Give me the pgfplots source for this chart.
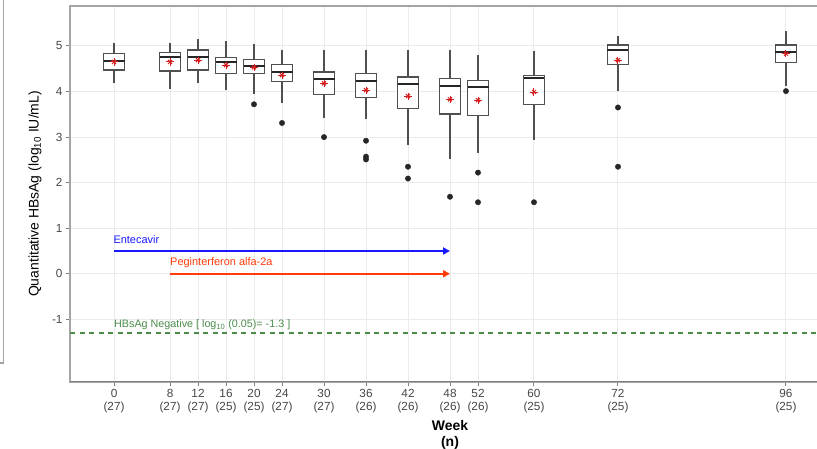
\documentclass[border=0pt]{standalone}
\usepackage{fontspec}
\setmainfont{Liberation Sans}
\usepackage{pgfplots}
\pgfplotsset{compat=1.18}
\usepgfplotslibrary{statistics}
\usetikzlibrary{arrows.meta}

\definecolor{tickgray}{RGB}{70,70,70}
\definecolor{gridgray}{RGB}{235,235,235}
\definecolor{framegray}{RGB}{165,165,165}
\definecolor{axisgray}{RGB}{128,128,128}
\definecolor{boxgray}{RGB}{80,80,80}
\definecolor{meanred}{RGB}{210,30,30}
\definecolor{etvblue}{RGB}{25,25,255}
\definecolor{pegred}{RGB}{255,60,10}
\definecolor{neggreen}{RGB}{75,140,75}

% one box per visit: position, lower whisker, Q1, median, Q3, upper whisker
\newcommand{\wkbox}[6]{%
  \addplot[draw=boxgray, fill=white, line width=1.3bp,
    boxplot prepared={draw direction=y, draw position=#1, box extend=3,
      whisker extend=0, lower whisker=#2, lower quartile=#3,
      median=#4, upper quartile=#5, upper whisker=#6}] coordinates {};}

\begin{document}
\begin{tikzpicture}
\begin{axis}[
  at={(70bp,67bp)}, anchor=south west,
  scale only axis, width=760bp, height=376bp,
  xmin=-6.29, xmax=102.29, ymin=-2.376, ymax=5.878,
  /pgf/number format/assume math mode=true,
  xtick={0,8,12,16,20,24,30,36,42,48,52,60,72,96},
  xticklabels={{0\\(27)},{8\\(27)},{12\\(27)},{16\\(25)},{20\\(25)},{24\\(27)},{30\\(27)},{36\\(26)},{42\\(26)},{48\\(26)},{52\\(26)},{60\\(25)},{72\\(25)},{96\\(25)}},
  ytick={-1,0,1,2,3,4,5},
  yticklabels={-1,0,1,2,3,4,5},
  xticklabel style={align=center, text=tickgray, font=\fontsize{11.8}{13}\selectfont},
  yticklabel style={text=tickgray, font=\fontsize{11.8}{13}\selectfont},
  tick align=outside, major tick length=4bp,
  tick style={axisgray, line width=1bp},
  xtick pos=left, ytick pos=left,
  grid=major, major grid style={gridgray, line width=1bp},
  axis line style={framegray, line width=1.2bp},
  xlabel={Week\\(n)},
  xlabel style={align=center, font=\fontsize{14}{17}\selectfont\bfseries},
  ylabel={Quantitative HBsAg (log\textsubscript{10} IU/mL)},
  ylabel style={at={(axis description cs:-0.046,0.5)}, anchor=center, font=\fontsize{14}{17}\selectfont},
  boxplot/every median/.style={draw=black!85, line width=2bp},
]

% HBsAg negative threshold
\addplot[neggreen, line width=1.2bp, dash pattern=on 5bp off 4.5bp] coordinates {(-6.29,-1.3) (102.29,-1.3)};
\node[anchor=west, inner sep=0pt, text=neggreen, font=\fontsize{10.8}{13}\selectfont] at (axis cs:0,-1.12) {HBsAg Negative [ log\textsubscript{10} (0.05)= -1.3 ]};

% treatment periods
\addplot[etvblue, line width=1.8bp, -{Triangle[length=7bp, width=7bp]}] coordinates {(0,0.5) (48,0.5)};
\node[anchor=west, inner sep=0pt, text=etvblue, font=\fontsize{11}{13}\selectfont] at (axis cs:-0.1,0.76) {Entecavir};
\addplot[pegred, line width=1.8bp, -{Triangle[length=7bp, width=7bp]}] coordinates {(8,0) (48,0)};
\node[anchor=west, inner sep=0pt, text=pegred, font=\fontsize{11}{13}\selectfont] at (axis cs:8,0.25) {Peginterferon alfa-2a};

% quantitative HBsAg by visit
\wkbox{0}{4.19}{4.47}{4.68}{4.83}{5.07}
\wkbox{8}{4.06}{4.45}{4.75}{4.85}{5.07}
\wkbox{12}{4.18}{4.47}{4.76}{4.91}{5.15}
\wkbox{16}{4.04}{4.40}{4.64}{4.74}{5.11}
\wkbox{20}{3.94}{4.39}{4.55}{4.71}{5.04}
\wkbox{24}{3.74}{4.22}{4.43}{4.59}{4.92}
\wkbox{30}{3.43}{3.93}{4.28}{4.43}{4.91}
\wkbox{36}{3.39}{3.87}{4.23}{4.39}{4.92}
\wkbox{42}{2.82}{3.63}{4.17}{4.32}{4.92}
\wkbox{48}{2.51}{3.51}{4.12}{4.28}{4.92}
\wkbox{52}{2.64}{3.47}{4.09}{4.25}{4.81}
\wkbox{60}{2.93}{3.71}{4.29}{4.35}{4.89}
\wkbox{72}{4.01}{4.59}{4.91}{5.02}{5.23}
\wkbox{96}{4.12}{4.64}{4.86}{5.02}{5.32}

% outliers
\addplot[only marks, mark=*, mark size=2.7bp, black!85] coordinates {
  (20,3.72) (24,3.31) (30,3.00) (36,2.92) (36,2.57) (36,2.51)
  (42,2.35) (42,2.09) (48,1.69) (52,2.22) (52,1.57) (60,1.57)
  (72,3.65) (72,2.35) (96,4.01)};

% means
\pgfplotstableread{
wk mean
0 4.65
8 4.65
12 4.69
16 4.58
20 4.53
24 4.36
30 4.18
36 4.03
42 3.90
48 3.83
52 3.81
60 3.99
72 4.69
96 4.83
}\meantab
\addplot[only marks, mark=+, mark size=3.6bp, meanred, line width=1bp] table[x=wk, y=mean] {\meantab};
\addplot[only marks, mark=x, mark size=2.8bp, meanred, line width=1bp] table[x=wk, y=mean] {\meantab};

\draw[axisgray, line width=1.5bp] (rel axis cs:0,0) -- (rel axis cs:1,0);
\end{axis}
\draw[framegray, line width=1.2bp] (0bp,86bp) -- (3.3bp,86bp) -- (3.3bp,450bp);
\pgfresetboundingbox
\path[use as bounding box] (0bp,0bp) rectangle (817bp,449bp);
\end{tikzpicture}
\end{document}
